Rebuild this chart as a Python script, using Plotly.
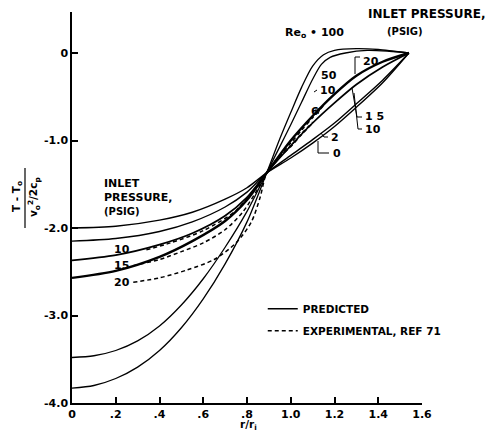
import plotly.graph_objects as go

# ---------------- data ----------------
# Predicted curves (solid)
r_a = [0, 0.2, 0.4, 0.55, 0.7, 0.8, 0.89, 1.0, 1.1, 1.2, 1.3, 1.42, 1.54]
y_p0 = [-2.00, -1.98, -1.91, -1.82, -1.67, -1.54, -1.37, -1.20, -1.03, -0.84, -0.62, -0.34, 0]
y_p2 = [-2.15, -2.12, -2.04, -1.93, -1.76, -1.59, -1.37, -1.17, -0.99, -0.80, -0.58, -0.31, 0]
y_p10 = [-2.37, -2.31, -2.19, -2.06, -1.86, -1.65, -1.37, -1.06, -0.80, -0.57, -0.36, -0.16, 0]
y_p20 = [-2.57, -2.49, -2.33, -2.15, -1.92, -1.68, -1.37, -1.00, -0.72, -0.47, -0.26, -0.10, 0]

r_p50 = [0, 0.1, 0.2, 0.3, 0.4, 0.5, 0.6, 0.7, 0.8, 0.89, 0.95, 1.0, 1.05, 1.1, 1.14, 1.18, 1.25, 1.35, 1.45, 1.54]
y_p50 = [-3.48, -3.46, -3.40, -3.29, -3.12, -2.88, -2.58, -2.22, -1.81, -1.37, -1.07, -0.82, -0.56, -0.30, -0.13, -0.05, 0.0, 0.03, 0.02, 0]

r_p100 = [0, 0.1, 0.2, 0.3, 0.4, 0.5, 0.6, 0.7, 0.8, 0.89, 0.95, 1.0, 1.05, 1.1, 1.15, 1.2, 1.3, 1.4, 1.47, 1.54]
y_p100 = [-3.83, -3.80, -3.72, -3.59, -3.40, -3.14, -2.81, -2.41, -1.93, -1.37, -0.98, -0.68, -0.39, -0.15, -0.02, 0.03, 0.05, 0.04, 0.02, 0]

# Experimental curves (dashed)
r_x10 = [0.34, 0.45, 0.6, 0.75, 0.89, 0.95, 1.0, 1.05, 1.1, 1.15]
y_x10 = [-2.25, -2.17, -2.03, -1.80, -1.37, -1.17, -1.03, -0.88, -0.74, -0.60]
r_x15 = [0.28, 0.4, 0.5, 0.6, 0.7, 0.78, 0.85, 0.89, 0.95, 1.0, 1.05, 1.1]
y_x15 = [-2.43, -2.36, -2.27, -2.17, -2.02, -1.82, -1.55, -1.37, -1.19, -1.06, -0.92, -0.79]
r_x20 = [0.28, 0.4, 0.525, 0.65, 0.75, 0.82, 0.86, 0.89, 0.95, 1.0, 1.05, 1.1]
y_x20 = [-2.62, -2.57, -2.48, -2.36, -2.17, -1.93, -1.65, -1.37, -1.18, -1.07, -0.93, -0.80]

x_ticks = [0, 0.2, 0.4, 0.6, 0.8, 1.0, 1.2, 1.4, 1.6]
x_ticktext = ["0", ".2", ".4", ".6", ".8", "1.0", "1.2", "1.4", "1.6"]
y_ticks = [0, -1, -2, -3, -4]
y_ticktext = ["0", "-1.0", "-2.0", "-3.0", "-4.0"]

# ---------------- figure ----------------
FONT = "DejaVu Sans"
OFF = 8                       # page body margin of the written html
W, H = 493 - OFF, 431 - OFF   # figure size so that it fills the window
L, R, T, B = 72 - OFF, 71, 12 - OFF, 28
X0, X1 = 0.0, 1.6
Y0, Y1 = -4.0, 0.4686
PW, PH = W - L - R, H - T - B
SX0, SY1 = L + OFF, T + OFF + PH   # screen pixel of plot left / plot bottom


def P(px, py):
    """screen pixel position -> data coordinates (for leader placement)"""
    return (X0 + (px - SX0) / PW * (X1 - X0), Y1 - (py - (T + OFF)) / PH * (Y1 - Y0))


def PP(px, py):
    """screen pixel position -> paper coordinates"""
    return ((px - SX0) / PW, (SY1 - py) / PH)


fig = go.Figure()

solid = [(r_a, y_p0, 1.4), (r_a, y_p2, 1.4), (r_a, y_p10, 1.7), (r_a, y_p20, 2.4),
         (r_p50, y_p50, 1.3), (r_p100, y_p100, 1.3)]
for i, (rx, yy, w) in enumerate(solid):
    fig.add_trace(go.Scatter(x=rx, y=yy, mode="lines",
                             line=dict(color="black", width=w, shape="spline", smoothing=0.8),
                             name="PREDICTED", legendgroup="a", showlegend=(i == 0)))

dashed = [(r_x10, y_x10), (r_x15, y_x15), (r_x20, y_x20)]
for i, (rx, yy) in enumerate(dashed):
    fig.add_trace(go.Scatter(x=rx, y=yy, mode="lines",
                             line=dict(color="black", width=1.5, dash="4px,3px", shape="spline", smoothing=0.8),
                             name="EXPERIMENTAL, REF 71", legendgroup="b", showlegend=(i == 0)))

annots = []


def txt(s, px, py, size=11, anchor="left", angle=0):
    x, y = PP(px, py)
    annots.append(dict(text=s, x=x, y=y, xref="paper", yref="paper", showarrow=False,
                       xanchor=anchor, yanchor="middle", textangle=angle,
                       font=dict(family=FONT, size=size, color="black", weight="bold")))


txt("INLET PRESSURE,", 366, 14, size=12)
txt("Re<sub>o</sub> • 100", 283, 33)
txt("(PSIG)", 385, 32, size=10)
txt("INLET", 102, 183)
txt("PRESSURE,", 102, 197)
txt("(PSIG)", 102, 212, size=10)
txt("10", 112, 249)
txt("15", 112, 265)
txt("20", 112, 282)
txt("50", 319, 75)
txt("10", 318, 90)
txt("6", 309, 112)
txt("2", 329, 137)
txt("0", 331, 153)
txt("20", 361, 61)
txt("1 5", 363, 117)
txt("10", 363, 129)

# axis-title style texts
txt("r/r<sub>i</sub>", 249, 425, size=10.5, anchor="center")
txt("T - T<sub>o</sub>", 17, 197, size=10.5, anchor="center", angle=-90)
txt("v<sub>o</sub><sup>2</sup>/2c<sub>p</sub>", 34, 197, size=10.5, anchor="center", angle=-90)

shapes = []


def seg(pts, w=1.0):
    path = ""
    for k, (px, py) in enumerate(pts):
        x, y = P(px, py)
        path += ("M" if k == 0 else "L") + f"{x},{y} "
    shapes.append(dict(type="path", path=path, xref="x", yref="y",
                       line=dict(color="black", width=w)))


# fraction bar of y title (paper coords)
fx, fy0 = PP(25, 168)
_, fy1 = PP(25, 228)
shapes.append(dict(type="line", xref="paper", yref="paper", x0=fx, x1=fx, y0=fy0, y1=fy1,
                   line=dict(color="black", width=1.2)))
# leader lines
seg([(355, 74), (355, 57), (360, 57)])
seg([(352, 88), (357, 117), (362, 117)])
seg([(354, 93), (358, 129), (362, 129)])
seg([(321, 133), (324, 137), (328, 137)])
seg([(318, 141), (318, 153), (329, 153)])
seg([(314, 92), (317, 90)])
seg([(315, 109), (320, 109), (318, 114)])

fig.update_layout(
    width=W, height=H,
    margin=dict(l=L, r=R, t=T, b=B, pad=0, autoexpand=False),
    paper_bgcolor="white", plot_bgcolor="white",
    font=dict(family=FONT, size=11, color="black", weight="bold"),
    annotations=annots, shapes=shapes,
    legend=dict(x=0.545, y=0.278, xanchor="left", yanchor="top",
                bgcolor="rgba(0,0,0,0)", tracegroupgap=3, itemwidth=30,
                font=dict(family=FONT, size=10.5, color="black", weight="bold")),
    xaxis=dict(range=[X0, X1], tickvals=x_ticks, ticktext=x_ticktext,
               ticks="inside", ticklen=6, tickwidth=1.5, tickcolor="black",
               showline=True, linewidth=1.5, linecolor="black",
               showgrid=False, zeroline=False, automargin=False,
               tickfont=dict(family=FONT, size=11, color="black", weight="bold")),
    yaxis=dict(range=[Y0, Y1], tickvals=y_ticks, ticktext=y_ticktext,
               ticks="inside", ticklen=6, tickwidth=1.5, tickcolor="black",
               showline=True, linewidth=1.5, linecolor="black",
               showgrid=False, zeroline=False, automargin=False,
               tickfont=dict(family=FONT, size=11, color="black", weight="bold")),
)

fig.write_html("out.html")
